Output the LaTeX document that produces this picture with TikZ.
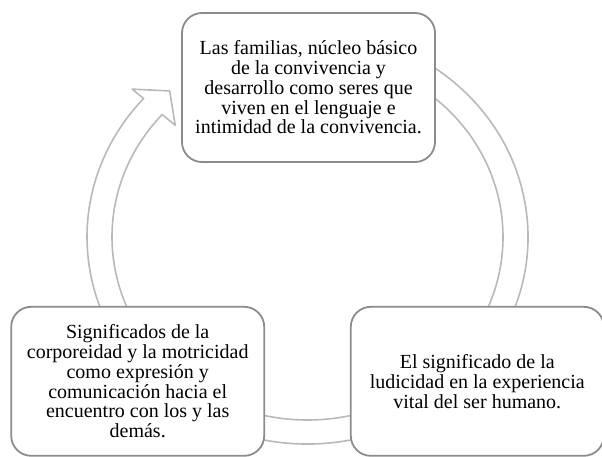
\documentclass[tikz,border=0pt]{standalone}
\usepackage{fontspec}
\setmainfont{Liberation Serif}
\usetikzlibrary{positioning}
\definecolor{boxgray}{RGB}{140,140,140}
\definecolor{ringgray}{RGB}{185,185,185}

\begin{document}
\begin{tikzpicture}[x=1pt,y=1pt,
    stage/.style={rectangle, rounded corners=20pt, draw=boxgray, line width=1.8pt, fill=white,
      minimum height=149pt, minimum width=253pt, align=center, font=\fontsize{20}{19.8}\selectfont},
    ring/.style={draw=ringgray, line width=1.6pt, fill=white, line join=round}]
    \useasboundingbox (0,0) rectangle (602,456);
    \coordinate (c) at (307.5,219);
    % the cycle arrow, drawn first so the boxes cover it
    \draw[ring] ([shift={(c)}]100:220.5pt and 207pt)
        arc[start angle=100, end angle=-222, x radius=220.5pt, y radius=207pt]
        -- ([shift={(c)}]138:236pt and 221pt)
        -- ([shift={(c)}]131.5:208pt and 195pt)
        -- ([shift={(c)}]138:178pt and 167pt)
        -- ([shift={(c)}]138:195.5pt and 183pt)
        arc[start angle=-222, end angle=100, x radius=195.5pt, y radius=183pt]
        -- cycle;
    \node(top) [stage] at (308.5,368.5) {Las familias, núcleo básico\\ de la convivencia y\\ desarrollo como seres que\\ viven en el lenguaje e\\ intimidad de la convivencia.};
    \node(right) [stage, below right = 143pt and -86pt of top] {El significado de la\\ ludicidad en la experiencia\\ vital del ser humano.};
    \node(left) [stage, below left = 143pt and -84pt of top] {Significados de la\\ corporeidad y la motricidad\\ como expresión y\\ comunicación hacia el\\ encuentro con los y las\\ demás.};
\end{tikzpicture}
\end{document}
